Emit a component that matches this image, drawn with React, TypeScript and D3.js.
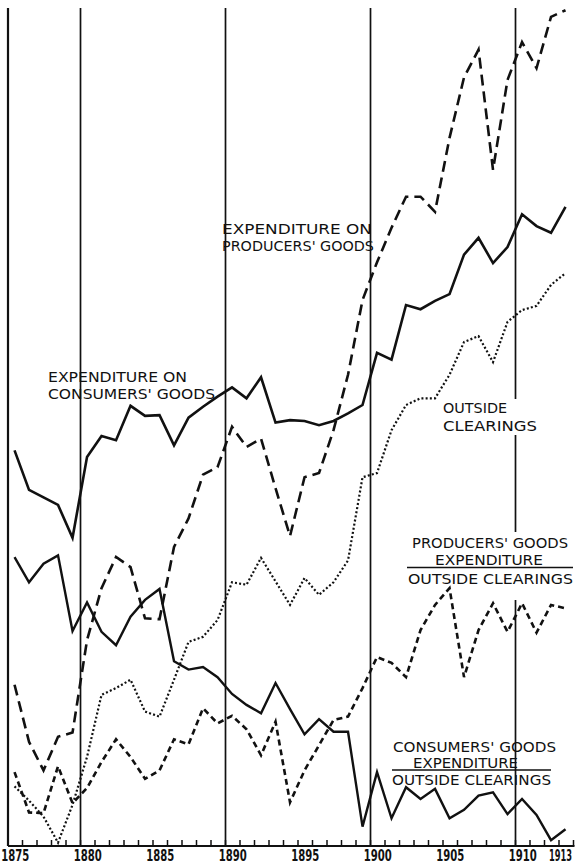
import * as d3 from "d3";

// years 1875..1913, one reading per year (index, arbitrary units)
const years = d3.range(1875, 1914);

const consumersExp = [
  47.1, 42.4, 41.5, 40.6, 36.7, 46.3, 48.8, 48.3, 52.4, 51.2, 51.3, 47.7, 51.0,
  52.3, 53.5, 54.6, 53.3, 55.8, 50.4, 50.7, 50.6, 50.1, 50.6, 51.5, 52.5, 58.7,
  57.9, 64.4, 63.9, 64.9, 65.7, 70.4, 72.4, 69.4, 71.3, 75.2, 73.8, 73.0, 76.1,
];
const producersExp = [
  19.2, 12.4, 9.0, 13.0, 13.5, 24.5, 30.7, 34.4, 33.2, 27.1, 27.0, 35.6, 39.0,
  44.2, 45.1, 49.9, 47.5, 48.5, 42.6, 36.9, 43.9, 44.4, 49.5, 56.1, 65.0, 69.5,
  73.6, 77.3, 77.3, 75.5, 84.3, 91.5, 94.8, 80.5, 91.2, 95.7, 92.6, 98.7, 99.5,
];
const outsideClearings = [
  7.1, 5.4, 3.5, 0.4, 4.9, 10.6, 18.0, 18.8, 19.8, 16.0, 15.4, 19.8, 24.3, 24.9,
  26.9, 31.4, 31.1, 34.3, 31.5, 28.7, 31.9, 29.9, 31.4, 34.0, 43.9, 44.4, 49.5,
  52.5, 53.3, 53.3, 56.1, 60.0, 60.7, 57.6, 62.4, 63.8, 64.3, 66.8, 68.2,
];
const producersRatio = [
  8.8, 4.0, 3.9, 9.5, 5.1, 6.9, 10.0, 12.7, 10.6, 8.0, 9.0, 12.7, 12.1, 16.4,
  14.6, 15.5, 13.9, 10.8, 14.8, 5.2, 9.0, 12.0, 15.0, 15.4, 18.8, 22.5, 21.8,
  20.1, 25.7, 28.7, 30.7, 20.1, 25.7, 28.9, 25.5, 28.9, 25.4, 28.7, 28.3,
];
const consumersRatio = [
  34.4, 31.4, 33.6, 34.6, 25.6, 29.0, 25.5, 23.9, 27.3, 29.3, 30.6, 22.0, 21.0,
  21.3, 20.1, 18.1, 16.8, 15.8, 19.4, 16.3, 13.3, 15.1, 13.6, 13.6, 2.3, 8.8,
  3.3, 7.0, 5.6, 6.8, 3.3, 4.3, 6.0, 6.4, 3.8, 5.6, 3.7, 0.7, 2.0,
];

const gridYears = [1875, 1880, 1890, 1900, 1910];
const tickLabels = ["1875", "1880", "1885", "1890", "1895", "1900", "1905", "1910", "1913"];

const W = 579;
const H = 868;
const FONT = "'DejaVu Sans Condensed', 'DejaVu Sans', sans-serif";

const x = d3.scaleLinear().domain([1875, 1914]).range([8, 573.5]);
const y = d3.scaleLinear().domain([0, 100]).range([846, 6]);
const baseY = y(0);

const series = [
  { values: consumersExp, dash: "none", width: 2.6 },
  { values: producersExp, dash: "11 6", width: 2.6 },
  { values: outsideClearings, dash: "2 2.2", width: 2.2 },
  { values: producersRatio, dash: "6 4", width: 2.6 },
  { values: consumersRatio, dash: "none", width: 2.4 },
];

// label blocks: [text, left x, baseline y, width]
const labels: [string, number, number, number][] = [
  ["EXPENDITURE ON", 222, 234, 150],
  ["PRODUCERS' GOODS", 222, 251, 152],
  ["EXPENDITURE ON", 48, 382, 139],
  ["CONSUMERS' GOODS", 48, 399, 167],
  ["OUTSIDE", 443, 413, 64],
  ["CLEARINGS", 443, 431, 94],
  ["PRODUCERS' GOODS", 412, 548, 156],
  ["EXPENDITURE", 435, 565, 108],
  ["OUTSIDE CLEARINGS", 408, 584, 165],
  ["CONSUMERS' GOODS", 393, 752, 163],
  ["EXPENDITURE", 413, 768, 105],
  ["OUTSIDE CLEARINGS", 392, 785, 159],
];

export default function App() {
  const line = d3
    .line<number>()
    .x((_d, i) => x(years[i] + 0.45))
    .y((d) => y(d));

  return (
    <svg
      width={W}
      height={H}
      style={{ position: "absolute", left: 0, top: 0, background: "#fff" }}
    >
      {/* vertical rules */}
      {gridYears.map((g) => (
        <line
          key={g}
          x1={x(g)}
          x2={x(g)}
          y1={8}
          y2={baseY}
          stroke="#111"
          strokeWidth={g === 1875 ? 2.2 : 1.7}
        />
      ))}

      {/* white patches where the 1910 rule is broken for labels */}
      <rect x={440} y={399} width={100} height={36} fill="#fff" />
      <rect x={405} y={532} width={170} height={68} fill="#fff" />

      {/* baseline and year ticks */}
      <line x1={x(1875)} x2={x(1914) + 1} y1={baseY} y2={baseY} stroke="#111" strokeWidth={2} />
      {d3.range(1876, 1915).map((yr) => (
        <line key={yr} x1={x(yr)} x2={x(yr)} y1={baseY} y2={baseY - 6} stroke="#111" strokeWidth={1.5} />
      ))}
      {tickLabels.map((t) => {
        const last = t === "1913";
        return (
          <text
            key={t}
            x={last ? 572 : x(+t + 0.5)}
            y={861}
            textAnchor={last ? "end" : "middle"}
            fontFamily={FONT}
            fontSize={16}
            fontWeight="bold"
            textLength={last ? 23 : 28}
            lengthAdjust="spacingAndGlyphs"
            fill="#111"
          >
            {t}
          </text>
        );
      })}

      {/* series */}
      {series.map((s, i) => (
        <path
          key={i}
          d={line(s.values) ?? ""}
          fill="none"
          stroke="#111"
          strokeWidth={s.width}
          strokeDasharray={s.dash}
          strokeLinejoin="miter"
        />
      ))}

      {/* labels */}
      {labels.map(([t, lx, ly, lw], i) => (
        <text
          key={i}
          x={lx}
          y={ly}
          fontFamily={FONT}
          fontSize={14.5}
          textLength={lw}
          lengthAdjust="spacingAndGlyphs"
          fill="#111"
        >
          {t}
        </text>
      ))}
      <line x1={407} x2={573} y1={567.5} y2={567.5} stroke="#111" strokeWidth={1.5} />
      <line x1={392} x2={551} y1={770} y2={770} stroke="#111" strokeWidth={1.5} />
    </svg>
  );
}
